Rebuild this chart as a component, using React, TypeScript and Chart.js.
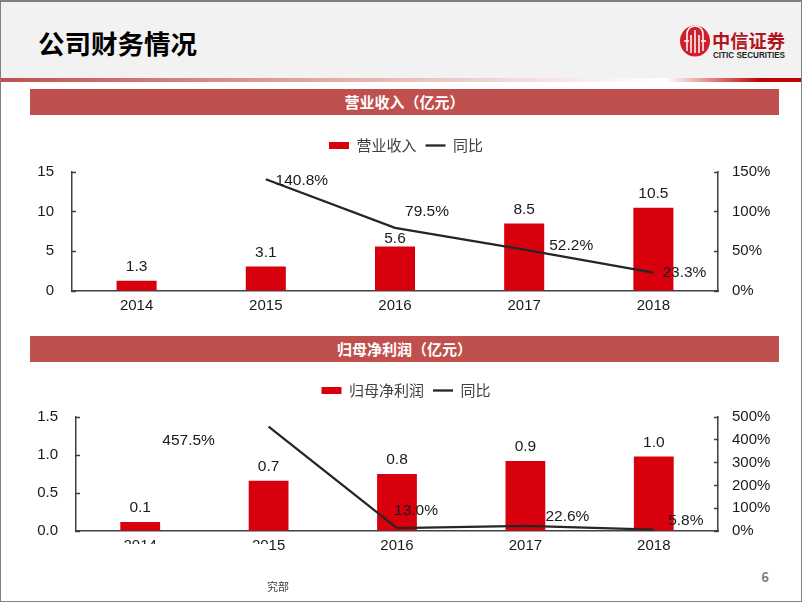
import React, { useEffect, useRef } from "react";
import { Chart, registerables } from "chart.js";

Chart.register(...registerables);

const years = ["2014", "2015", "2016", "2017", "2018"];

const revenue = [1.3, 3.1, 5.6, 8.5, 10.5];
const revenueGrowth = [null, 140.8, 79.5, 52.2, 23.3];
const revenueTicks = [0, 5, 10, 15];
const revenueGrowthTicks = [0, 50, 100, 150];

const profit = [0.12, 0.66, 0.75, 0.92, 0.98];
const profitGrowth = [null, 457.5, 13.0, 22.6, 5.8];
const profitTicks = [0, 0.5, 1.0, 1.5];
const profitGrowthTicks = [0, 100, 200, 300, 400, 500];

const revenueLabelShift = [[0, 0], [36, 1], [32, -16], [47, -4], [31, 0]];
const profitLabelShift = [[0, 0], [-80, 14], [19, -17], [42, -9], [32, -9]];
const revenueBarLabelGap = [14, 14, 8, 14, 14];
const profitBarLabelGap = [14, 14, 14, 14, 14];

const NUM = "'Liberation Sans', Arial, sans-serif";
const CJK = "'Noto Sans CJK SC', 'Noto Sans', sans-serif";
const RED = "#d9000d";
const INK = "#1a1a1a";
const AXIS = "#404040";

type PanelProps = {
  top: number; height: number; plotLeft: number;
  barName: string; bars: number[]; growth: (number | null)[];
  leftTicks: number[]; rightTicks: number[]; tickDigits: number;
  shift: number[][]; barGap: number[];
};

function Panel(p: PanelProps) {
  const ref = useRef<HTMLCanvasElement>(null);
  useEffect(() => {
    const labels = {
      id: "valueLabels",
      afterLayout(chart: any) {
        chart.legend.top -= 9;
      },
      afterDatasetsDraw(chart: any) {
        const { ctx } = chart;
        ctx.save();
        ctx.font = `15.5px ${NUM}`;
        ctx.fillStyle = INK;
        ctx.textAlign = "center";
        ctx.textBaseline = "middle";
        chart.getDatasetMeta(0).data.forEach((el: any, i: number) => {
          ctx.fillText(p.bars[i].toFixed(1), el.x, el.y - p.barGap[i]);
        });
        chart.getDatasetMeta(1).data.forEach((el: any, i: number) => {
          const v = p.growth[i];
          if (v == null) return;
          ctx.fillText(v.toFixed(1) + "%", el.x + p.shift[i][0], el.y + p.shift[i][1]);
        });
        ctx.restore();
      },
    };
    const tickFont = { family: NUM, size: 15 };
    const chart = new Chart(ref.current as HTMLCanvasElement, {
      type: "bar",
      plugins: [labels],
      data: {
        labels: years,
        datasets: [
          {
            type: "bar", label: p.barName, data: p.bars, yAxisID: "y",
            backgroundColor: RED, borderWidth: 0, pointStyle: "rect",
            barPercentage: 0.31, categoryPercentage: 1, order: 2,
          },
          {
            type: "line", label: "同比", data: p.growth, yAxisID: "y2",
            borderColor: "#262626", backgroundColor: "#262626", borderWidth: 2.3,
            pointRadius: 0, pointStyle: "line", tension: 0, order: 1,
          },
        ],
      } as any,
      options: {
        animation: false,
        responsive: false,
        layout: { padding: { top: 22, left: 10, right: 0, bottom: 0 } },
        plugins: {
          tooltip: { enabled: false },
          legend: {
            position: "top",
            labels: {
              usePointStyle: true, pointStyleWidth: 20, boxHeight: 7,
              padding: 9, color: AXIS, font: { family: CJK, size: 15 },
              sort: (a: any, b: any) => a.datasetIndex - b.datasetIndex,
            },
          },
        },
        scales: {
          x: {
            grid: { display: false, drawTicks: false },
            border: { color: AXIS, width: 1.5 },
            ticks: { color: INK, font: tickFont, padding: 6, maxRotation: 0 },
            afterFit: (s: any) => { s.height = 35; },
          },
          y: {
            position: "left",
            min: p.leftTicks[0], max: p.leftTicks[p.leftTicks.length - 1],
            afterBuildTicks: (s: any) => { s.ticks = p.leftTicks.map((value) => ({ value })); },
            afterFit: (s: any) => { s.width = p.plotLeft - 10; },
            grid: { drawOnChartArea: false, tickLength: -4, tickColor: AXIS, tickWidth: 1.5 },
            border: { color: AXIS, width: 1.5 },
            ticks: {
              color: INK, font: tickFont, padding: 22,
              callback: (v: any) => Number(v).toFixed(p.tickDigits),
            },
          },
          y2: {
            position: "right",
            min: p.rightTicks[0], max: p.rightTicks[p.rightTicks.length - 1],
            afterBuildTicks: (s: any) => { s.ticks = p.rightTicks.map((value) => ({ value })); },
            afterFit: (s: any) => { s.width = 84; },
            grid: { drawOnChartArea: false, tickLength: -4, tickColor: AXIS, tickWidth: 1.5 },
            border: { color: AXIS, width: 1.5 },
            ticks: { color: INK, font: tickFont, padding: 18, callback: (v: any) => v + "%" },
          },
        },
      } as any,
    });
    return () => chart.destroy();
  }, []);
  return (
    <canvas
      ref={ref}
      width={802}
      height={p.height}
      style={{ position: "absolute", left: 0, top: p.top, width: 802, height: p.height }}
    />
  );
}

const sectionBar = (top: number, text: string) => (
  <div
    style={{
      position: "absolute", left: 30, top, width: 749, height: 26, background: "#c0504d",
      color: "#fff", font: `bold 15px ${CJK}`, lineHeight: "26px", textAlign: "center",
    }}
  >
    {text}
  </div>
);

function Logo() {
  return (
    <svg width={120} height={40} style={{ position: "absolute", left: 676, top: 22 }}>
      <ellipse cx={19} cy={19} rx={15} ry={15.5} fill="#cf1f2e" />
      <g stroke="#fff" strokeWidth={1.5} fill="none">
        <path d="M11 29V12a8 8 0 0 1 16 0V29" />
        <path d="M15 31V13M19 31V8M23 31V13" />
        <path d="M8 19h5M25 19h5" />
      </g>
      <text x={36} y={26} fontFamily={CJK} fontWeight="bold" fontSize={18} fill="#b5141d" textLength={73} lengthAdjust="spacingAndGlyphs">中信证券</text>
      <text x={37} y={36} fontFamily={NUM} fontWeight="bold" fontSize={9} fill="#222" textLength={72} lengthAdjust="spacingAndGlyphs">CITIC SECURITIES</text>
    </svg>
  );
}

export default function App() {
  return (
    <div style={{ position: "fixed", left: 0, top: 0, width: 802, height: 602, background: "#fff", overflow: "hidden" }}>
      <div style={{ position: "absolute", left: 0, top: 0, width: 802, height: 78, background: "#f2f2f2" }} />
      <div
        style={{
          position: "absolute", left: 0, top: 78, width: 802, height: 4,
          background: "linear-gradient(90deg, #c0504d 0%, #e0a9a7 40%, #ffffff 82%, #ffffff 83%, #c00000 95%, #c00000 100%)",
        }}
      />
      <div style={{ position: "absolute", left: 38, top: 23, color: "#000", font: `bold 26.5px ${CJK}`, lineHeight: "40px" }}>公司财务情况</div>
      <Logo />
      {sectionBar(89, "营业收入\uFF08亿元\uFF09")}
      {sectionBar(336, "归母净利润\uFF08亿元\uFF09")}
      <Panel top={116} height={210} plotLeft={72} barName="营业收入" bars={revenue} growth={revenueGrowth}
        leftTicks={revenueTicks} rightTicks={revenueGrowthTicks} tickDigits={0} shift={revenueLabelShift} barGap={revenueBarLabelGap} />
      <Panel top={361} height={205} plotLeft={76} barName="归母净利润" bars={profit} growth={profitGrowth}
        leftTicks={profitTicks} rightTicks={profitGrowthTicks} tickDigits={1} shift={profitLabelShift} barGap={profitBarLabelGap} />
      <div style={{ position: "absolute", left: 0, top: 544, width: 268, height: 58, background: "#fff" }} />
      <div style={{ position: "absolute", left: 267, top: 578, color: "#404040", font: `11px ${CJK}`, lineHeight: "16px" }}>究部</div>
      <div style={{ position: "absolute", left: 757, top: 568, width: 16, color: "#7f7f7f", font: `bold 13px ${CJK}`, lineHeight: "18px", textAlign: "center" }}>6</div>
      <div style={{ position: "absolute", inset: 0, borderStyle: "solid", borderColor: "#7f7f7f", borderWidth: "2px 1px 1px 1px", pointerEvents: "none" }} />
    </div>
  );
}
